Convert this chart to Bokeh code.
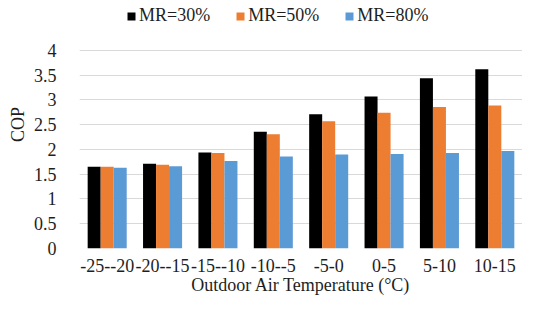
from bokeh.plotting import figure
from bokeh.models import ColumnDataSource, FactorRange, Legend, LegendItem, FixedTicker, NumeralTickFormatter
from bokeh.transform import dodge
from bokeh.embed import file_html
from bokeh.resources import INLINE

categories = ["-25--20", "-20--15", "-15--10", "-10--5", "-5-0", "0-5", "5-10", "10-15"]
mr30 = [1.65, 1.71, 1.94, 2.36, 2.71, 3.07, 3.44, 3.62]
mr50 = [1.65, 1.69, 1.93, 2.31, 2.57, 2.74, 2.86, 2.89]
mr80 = [1.63, 1.66, 1.77, 1.86, 1.90, 1.91, 1.93, 1.97]
series_names = ["MR=30%", "MR=50%", "MR=80%"]
colors = ["#000000", "#ED7D31", "#5B9BD5"]
y_ticks = [0, 0.5, 1, 1.5, 2, 2.5, 3, 3.5, 4]

FONT = "Liberation Serif"
TXT = "#1e1e1e"

source = ColumnDataSource(dict(cat=categories, mr30=mr30, mr50=mr50, mr80=mr80))

# y range extends above the top tick so the legend sits inside the frame (no gridline there)
p = figure(x_range=FactorRange(factors=categories, range_padding=0), y_range=(0, 5.01),
           width=522, height=297, output_backend="svg", toolbar_location=None,
           min_border_left=79, min_border_right=0, min_border_top=0, min_border_bottom=49)
p.outline_line_color = None
p.background_fill_color = "white"
p.border_fill_color = "white"

bw = 0.235
renderers = []
for i, (col, name, c) in enumerate(zip(["mr30", "mr50", "mr80"], series_names, colors)):
    r = p.vbar(x=dodge("cat", (i - 1) * bw, range=p.x_range), top=col, width=bw,
               source=source, fill_color=c, line_color=None)
    renderers.append(r)

p.xgrid.grid_line_color = None
p.ygrid.grid_line_color = "#D9D9D9"
p.ygrid.grid_line_width = 1
p.yaxis.ticker = FixedTicker(ticks=y_ticks)
p.yaxis.formatter = NumeralTickFormatter(format="0.[0]")

for ax in (p.xaxis, p.yaxis):
    ax.axis_line_color = None
    ax.major_tick_line_color = None
    ax.minor_tick_line_color = None
    ax.major_label_text_font = FONT
    ax.major_label_text_font_size = "18px"
    ax.major_label_text_color = TXT
    ax.axis_label_text_font = FONT
    ax.axis_label_text_font_size = "18px"
    ax.axis_label_text_font_style = "normal"
    ax.axis_label_text_color = TXT

p.xaxis.axis_label = "Outdoor Air Temperature (°C)"
p.xaxis.major_label_standoff = 4
p.xaxis.axis_label_standoff = 0
p.yaxis.axis_label = "COP"
p.yaxis.major_label_standoff = 17
p.yaxis.axis_label_standoff = 3

legend = Legend(items=[LegendItem(label=n, renderers=[r]) for n, r in zip(series_names, renderers)],
                location=(47, 222), orientation="horizontal",
                glyph_width=10, glyph_height=10, label_standoff=3, spacing=25, label_height=20,
                padding=0, margin=0, border_line_color=None, background_fill_alpha=0,
                label_text_font=FONT, label_text_font_size="18px", label_text_color=TXT)
p.add_layout(legend, "center")

open("out.html", "w").write(file_html(p, INLINE))
